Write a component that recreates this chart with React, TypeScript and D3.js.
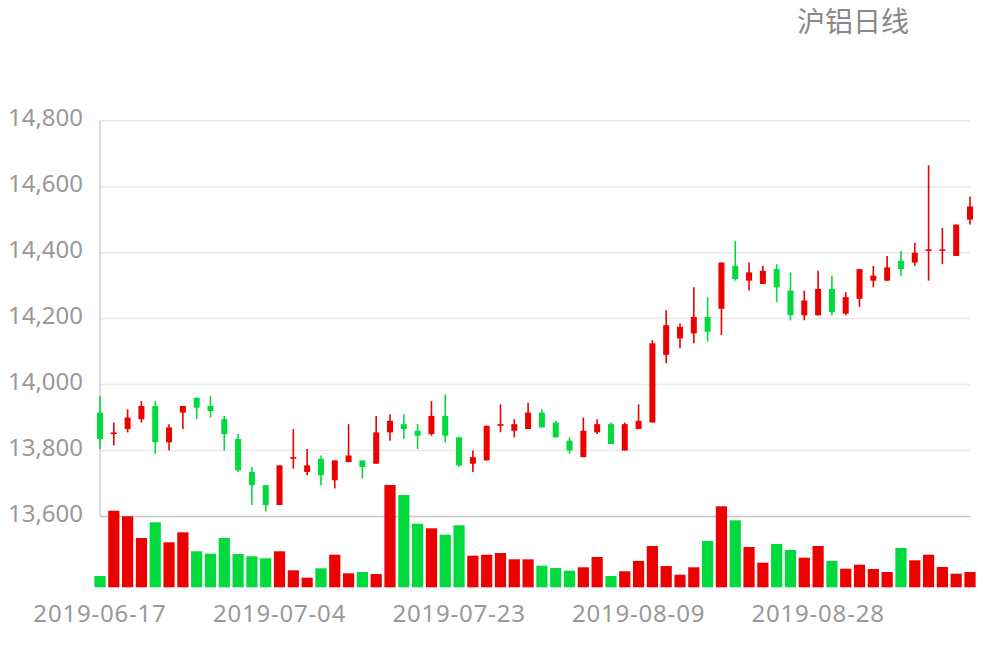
import { scaleLinear, scalePoint } from "d3";

const dates = [
  "2019-06-17", "2019-06-18", "2019-06-19", "2019-06-20", "2019-06-21",
  "2019-06-24", "2019-06-25", "2019-06-26", "2019-06-27", "2019-06-28",
  "2019-07-01", "2019-07-02", "2019-07-03", "2019-07-04", "2019-07-05",
  "2019-07-08", "2019-07-09", "2019-07-10", "2019-07-11", "2019-07-12",
  "2019-07-15", "2019-07-16", "2019-07-17", "2019-07-18", "2019-07-19",
  "2019-07-22", "2019-07-23", "2019-07-24", "2019-07-25", "2019-07-26",
  "2019-07-29", "2019-07-30", "2019-07-31", "2019-08-01", "2019-08-02",
  "2019-08-05", "2019-08-06", "2019-08-07", "2019-08-08", "2019-08-09",
  "2019-08-12", "2019-08-13", "2019-08-14", "2019-08-15", "2019-08-16",
  "2019-08-19", "2019-08-20", "2019-08-21", "2019-08-22", "2019-08-23",
  "2019-08-26", "2019-08-27", "2019-08-28", "2019-08-29", "2019-08-30",
  "2019-09-02", "2019-09-03", "2019-09-04", "2019-09-05", "2019-09-06",
  "2019-09-09", "2019-09-10", "2019-09-11", "2019-09-12",
];

const opens = [
  13915, 13850, 13865, 13895, 13935, 13825, 13915, 13960, 13935, 13895,
  13835, 13735, 13695, 13635, 13775, 13735, 13775, 13710, 13765, 13770,
  13760, 13855, 13880, 13860, 13850, 13905, 13840, 13760, 13770, 13875,
  13860, 13865, 13915, 13885, 13830, 13780, 13855, 13880, 13800, 13865,
  13885, 14090, 14140, 14155, 14205, 14230, 14360, 14315, 14305, 14350,
  14285, 14210, 14210, 14290, 14215, 14260, 14315, 14315, 14375, 14370,
  14405, 14405, 14390, 14500,
];

const closes = [
  13835, 13855, 13900, 13935, 13825, 13870, 13935, 13930, 13920, 13850,
  13740, 13695, 13635, 13755, 13780, 13755, 13725, 13770, 13785, 13750,
  13855, 13890, 13865, 13845, 13905, 13845, 13755, 13780, 13875, 13880,
  13880, 13915, 13870, 13840, 13800, 13860, 13880, 13820, 13880, 13890,
  14125, 14180, 14175, 14205, 14160, 14370, 14320, 14340, 14345, 14295,
  14210, 14255, 14290, 14220, 14265, 14350, 14330, 14355, 14350, 14400,
  14410, 14410, 14485, 14540,
];

const lows = [
  13805, 13815, 13855, 13885, 13790, 13800, 13865, 13895, 13900, 13800,
  13735, 13635, 13615, 13635, 13745, 13725, 13695, 13685, 13765, 13715,
  13760, 13830, 13835, 13805, 13845, 13825, 13750, 13735, 13770, 13855,
  13840, 13865, 13870, 13840, 13790, 13780, 13850, 13820, 13800, 13865,
  13885, 14065, 14110, 14125, 14130, 14150, 14315, 14285, 14305, 14250,
  14195, 14195, 14210, 14210, 14210, 14235, 14295, 14315, 14330, 14360,
  14315, 14365, 14390, 14485,
];

const highs = [
  13965, 13885, 13925, 13950, 13950, 13880, 13935, 13960, 13965, 13905,
  13850, 13750, 13695, 13755, 13865, 13805, 13785, 13770, 13880, 13770,
  13905, 13910, 13910, 13880, 13950, 13970, 13840, 13800, 13875, 13940,
  13895, 13945, 13925, 13890, 13840, 13900, 13895, 13885, 13885, 13940,
  14135, 14225, 14185, 14295, 14265, 14370, 14435, 14370, 14360, 14365,
  14340, 14285, 14345, 14330, 14280, 14350, 14360, 14390, 14405, 14430,
  14665, 14475, 14485, 14570,
];

const volumes = [
  22600, 153200, 142000, 98600, 130000, 90000, 110000, 72000, 67200, 98600,
  66600, 62000, 58000, 72000, 34000, 19200, 38000, 65200, 28000, 30600,
  26600, 204600, 184600, 127200, 118000, 105200, 124000, 63200, 65200, 68600,
  56000, 56000, 43200, 38600, 33200, 40000, 60600, 22600, 32000, 52600,
  82600, 42600, 25200, 40000, 92600, 162000, 134000, 80600, 49200, 86600,
  74600, 59200, 82600, 52600, 37200, 45200, 36600, 30600, 78600, 54000,
  65200, 40600, 27200, 30600,
];

const priceTicks = [13600, 13800, 14000, 14200, 14400, 14600, 14800];
const dateLabels = ["2019-06-17", "2019-07-04", "2019-07-23", "2019-08-09", "2019-08-28"];

const UP = "#ec0000";
const DOWN = "#00da3c";
const FONT = "'Noto Sans', 'Noto Sans CJK SC', sans-serif";

export default function App() {
  const width = 1000;
  const height = 660;

  const x = scalePoint<string>().domain(dates).range([100, 970]).padding(0);
  const y = scaleLinear().domain([13600, 14800]).range([516.5, 120.7]);
  const yVol = scaleLinear().domain([0, 250000]).range([587.3, 462.3]);

  const fmt = (v: number) => v.toLocaleString("en-US");

  return (
    <svg
      width={width}
      height={height}
      style={{ position: "absolute", left: 0, top: 0, background: "#fff" }}
      fontFamily={FONT}
    >
      <text x={797} y={32} fontSize={28} fill="#888">
        沪铝日线
      </text>

      {priceTicks.slice(1).map((t) => (
        <line
          key={"g" + t}
          x1={100}
          x2={970}
          y1={y(t)}
          y2={y(t)}
          stroke="#e9e9e9"
          strokeWidth={1.5}
        />
      ))}

      {priceTicks.map((t) => (
        <text
          key={"t" + t}
          x={83}
          y={y(t) + 5}
          fontSize={24}
          fill="#999"
          textAnchor="end"
        >
          {fmt(t)}
        </text>
      ))}

      <line x1={100} x2={100} y1={y(14800)} y2={y(13600)} stroke="#c8c8c8" strokeWidth={1.3} />
      <line x1={100} x2={970.5} y1={y(13600)} y2={y(13600)} stroke="#c8c8c8" strokeWidth={1.3} />

      {dates.map((d, i) => {
        const cx = x(d) as number;
        const up = closes[i] > opens[i];
        const color = up ? UP : DOWN;
        const top = y(Math.max(opens[i], closes[i]));
        const bot = y(Math.min(opens[i], closes[i]));
        return (
          <g key={d}>
            <line
              x1={cx}
              x2={cx}
              y1={y(highs[i])}
              y2={y(lows[i])}
              stroke={color}
              strokeWidth={1.6}
            />
            <rect
              x={cx - 3}
              y={top}
              width={6}
              height={Math.max(1.5, bot - top)}
              fill={color}
            />
          </g>
        );
      })}

      {dates.map((d, i) => {
        const cx = x(d) as number;
        const up = closes[i] > opens[i];
        return (
          <rect
            key={"v" + d}
            x={cx - 5.6}
            y={yVol(volumes[i])}
            width={11.2}
            height={yVol(0) - yVol(volumes[i])}
            fill={up ? UP : DOWN}
          />
        );
      })}

      {dateLabels.map((d) => (
        <text
          key={"x" + d}
          x={x(d) as number}
          y={621.5}
          fontSize={24}
          letterSpacing={0.8}
          fill="#999"
          textAnchor="middle"
        >
          {d}
        </text>
      ))}
    </svg>
  );
}
